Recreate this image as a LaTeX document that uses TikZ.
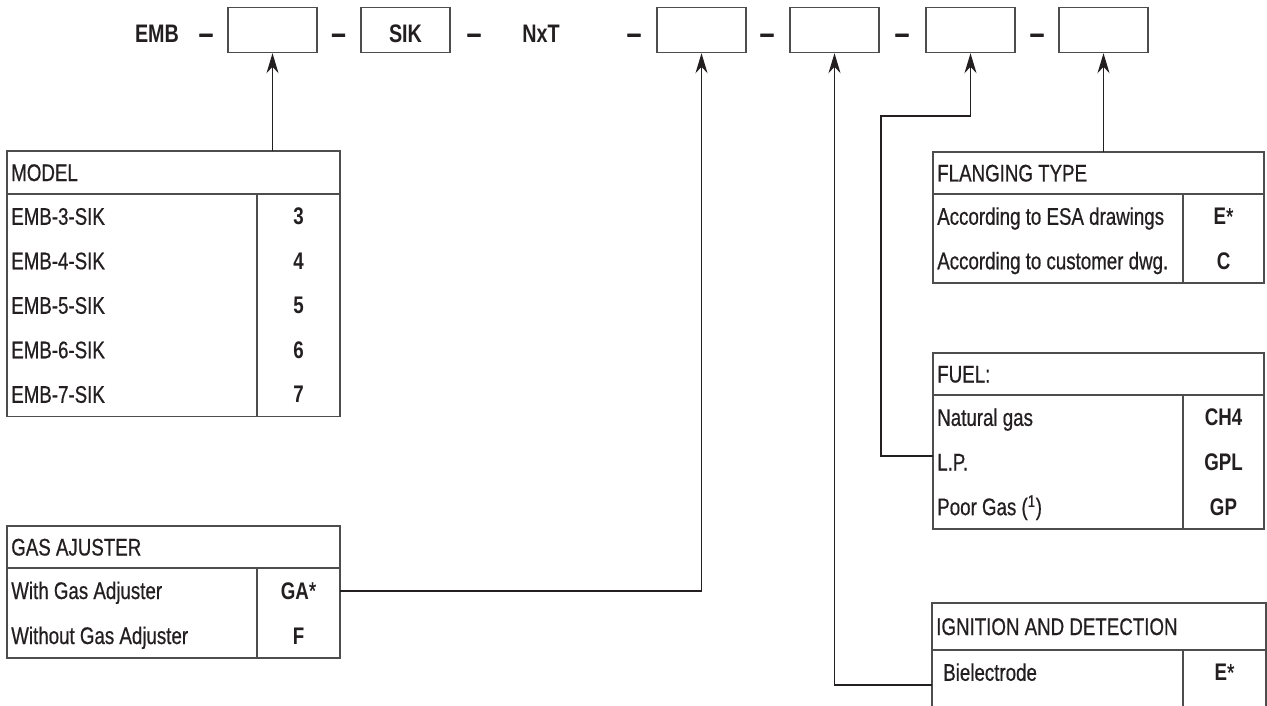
\documentclass[tikz,border=0pt]{standalone}
\usepackage{fontspec}
\setmainfont{Liberation Sans}[FakeStretch=0.78, UprightFeatures={FakeBold=0.6}]
\newfontfamily\barfont{Liberation Sans}[FakeBold=3]
\usetikzlibrary{arrows.meta}
\definecolor{ink}{HTML}{231F20}
\definecolor{rule}{HTML}{4D4D4D}

\begin{document}
\begin{tikzpicture}
  [x=0.75pt,y=-0.75pt,every node/.style={inner sep=0pt, text=ink},
   entry/.style={font=\fontsize{18}{20}\selectfont, anchor=base west},
   val/.style={font=\fontsize{18}{20}\selectfont\bfseries, anchor=base},
   head/.style={font=\fontsize{19}{22}\selectfont\bfseries, anchor=base},
   bar/.style={font=\fontsize{19}{22}\barfont\bfseries, anchor=base},
   slot/.style={draw=rule, line width=1.1pt, minimum width=66.75pt, minimum height=33.75pt},
   tabframe/.style={draw=rule, line width=1pt},
   link/.style={draw=ink, line width=0.9pt, -{Stealth[length=15pt,width=9pt]}}]
  \clip (0,0) rectangle (1267,706);
  \fill[white] (0,0) rectangle (1267,706);

  % code line
  \node[head] (emb) at (157,43) {EMB};
  \node[head] (sik-t) at (405.5,43) {SIK};
  \node[head, anchor=base west] (nxt) at (522,43) {NxT};
  \foreach \x [count=\i] in {206,338.5,474,634,767,902,1037}
    \node[bar] (dash\i) at (\x,42) {\textendash};
  \foreach \n/\x in {b1/272.5,sik/405.5,b2/701.5,b3/834.5,b4/970.5,b5/1103.5}
    \node[slot] (\n) at (\x,30) {};

  % model
  \draw[tabframe] (7,151) rectangle (340,416.5) (7,194) -- (340,194) (257,194) -- (257,416.5);
  \node[entry] (model-h) at (11,181) {MODEL};
  \foreach \t/\v [count=\i] in {EMB-3-SIK/3,EMB-4-SIK/4,EMB-5-SIK/5,EMB-6-SIK/6,EMB-7-SIK/7} {
    \node[entry] (model-\i) at (11,{194+44.5*\i-13.75}) {\t};
    \node[val] (model-v\i) at (298.5,{194+44.5*\i-13.75}) {\v};
  }

  % gas adjuster
  \draw[tabframe] (7,526) rectangle (340,658) (7,568) -- (340,568) (257,568) -- (257,658);
  \node[entry] (gas-h) at (11,555.5) {GAS AJUSTER};
  \foreach \t/\v [count=\i] in {With Gas Adjuster/{GA{\mdseries*}},Without Gas Adjuster/F} {
    \node[entry] (gas-\i) at (11,{568+45*\i-14}) {\t};
    \node[val] (gas-v\i) at (298.5,{568+45*\i-14}) {\v};
  }

  % flanging
  \draw[tabframe] (933,152) rectangle (1264,283) (933,194) -- (1264,194) (1183,194) -- (1183,283);
  \node[entry] (flange-h) at (937,181.5) {FLANGING TYPE};
  \foreach \t/\v [count=\i] in {According to ESA drawings/{E{\mdseries*}},According to customer dwg./C} {
    \node[entry] (flange-\i) at (937,{194+44.5*\i-13.75}) {\t};
    \node[val] (flange-v\i) at (1223.5,{194+44.5*\i-13.75}) {\v};
  }

  % fuel
  \draw[tabframe] (933,353) rectangle (1264,529) (933,395) -- (1264,395) (1183,395) -- (1183,529);
  \node[entry] (fuel-h) at (937,382.5) {FUEL:};
  \foreach \t/\v [count=\i] in {Natural gas/CH4,L.P./GPL,Poor Gas (\textsuperscript{1})/GP} {
    \node[entry] (fuel-\i) at (937,{395+44.67*\i-13.83}) {\t};
    \node[val] (fuel-v\i) at (1223.5,{395+44.67*\i-13.83}) {\v};
  }

  % ignition
  \draw[tabframe] (932,603) rectangle (1266,740) (932,650) -- (1266,650) (1183,650) -- (1183,740);
  \node[entry] (ign-h) at (936,635) {IGNITION AND DETECTION};
  \node[entry] (ign-1) at (943,680.75) {Bielectrode};
  \node[val] (ign-v1) at (1224.5,680.75) {E{\mdseries*}};

  \coordinate (model-in) at (272.5,151);
  \coordinate (gas-out) at (340,591);
  \coordinate (ign-in) at (932,685);
  \coordinate (fuel-in) at (933,456);
  \coordinate (flange-in) at (1103.5,152);
  \draw[link] (model-in) -- (b1.south);
  \draw[link] (gas-out) -| (b2.south);
  \draw[link] (ign-in) -| (b3.south);
  \draw[link] (fuel-in) -| (881,116) -| (b4.south);
  \draw[link] (flange-in) -- (b5.south);
\end{tikzpicture}
\end{document}
